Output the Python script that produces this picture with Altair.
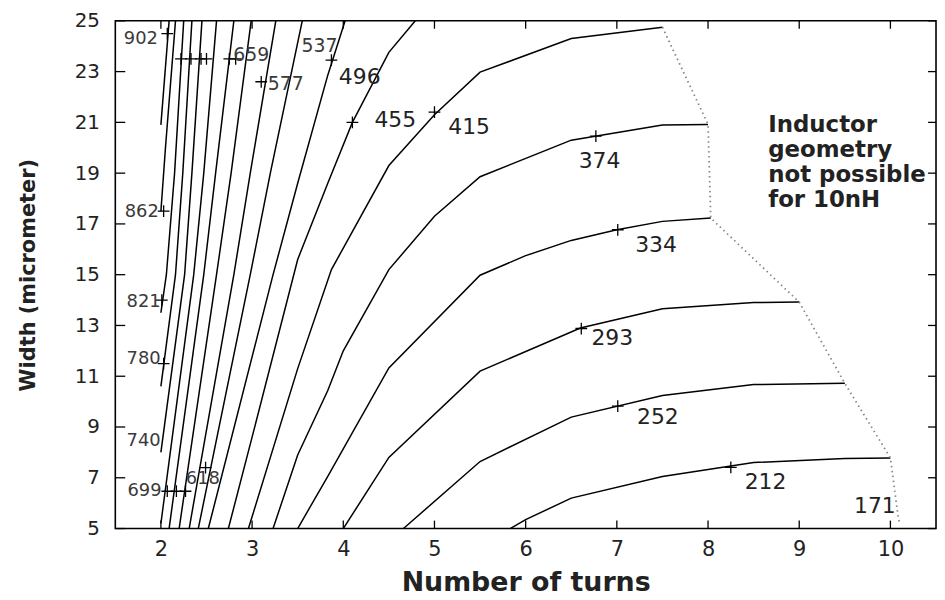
import altair as alt
import pandas as pd

# ---- contour lines: level -> (turns, width) points ----
levels = [212, 252, 293, 334, 374, 415, 455, 496, 537, 577, 618, 659, 699, 740, 780, 821, 862, 902]
line_turns = {
    212: [5.83, 6.0, 6.5, 7.5, 8.5, 9.5, 10.0],
    252: [4.66, 5.5, 6.5, 7.5, 8.5, 9.5],
    293: [4.0, 4.5, 5.5, 6.6, 7.5, 8.5, 9.0],
    334: [3.5, 3.83, 4.5, 5.5, 6.0, 6.5, 7.0, 7.5, 8.03],
    374: [3.23, 3.5, 3.83, 4.0, 4.5, 5.0, 5.5, 6.5, 7.5, 8.0],
    415: [2.96, 3.5, 3.87, 4.5, 5.0, 5.5, 6.5, 7.5],
    455: [2.74, 3.0, 3.5, 3.83, 4.1, 4.5, 4.79],
    496: [2.52, 3.23, 3.5, 3.83, 4.02],
    537: [2.41, 2.98, 3.2, 3.55],
    577: [2.31, 2.80, 2.98, 3.26],
    618: [2.20, 2.61, 2.77, 2.99],
    659: [2.09, 2.47, 2.60, 2.80],
    699: [2.0, 2.36, 2.47, 2.61],
    740: [2.0, 2.26, 2.34, 2.45],
    780: [2.0, 2.16, 2.24, 2.34],
    821: [2.0, 2.06, 2.15, 2.25],
    862: [2.0, 2.05, 2.16],
    902: [2.0, 2.09],
}
line_width = {
    212: [5.0, 5.35, 6.2, 7.05, 7.6, 7.76, 7.78],
    252: [5.0, 7.64, 9.39, 10.24, 10.67, 10.72],
    293: [5.0, 7.8, 11.2, 12.9, 13.66, 13.9, 13.92],
    334: [5.0, 7.06, 11.33, 14.98, 15.75, 16.35, 16.77, 17.1, 17.23],
    374: [5.0, 7.9, 10.44, 12.0, 15.2, 17.3, 18.86, 20.3, 20.9, 20.92],
    415: [5.0, 11.3, 15.2, 19.3, 21.3, 22.98, 24.3, 24.75],
    455: [5.0, 8.6, 15.6, 18.6, 21.0, 23.76, 25.0],
    496: [5.0, 15.0, 18.6, 22.86, 25.0],
    537: [5.0, 15.0, 19.0, 25.0],
    577: [5.0, 15.0, 19.0, 25.0],
    618: [5.0, 15.0, 19.0, 25.0],
    659: [5.0, 15.0, 19.0, 25.0],
    699: [5.2, 15.0, 19.0, 25.0],
    740: [8.0, 15.0, 19.0, 25.0],
    780: [10.6, 15.0, 19.0, 25.0],
    821: [13.5, 15.0, 19.0, 25.0],
    862: [17.5, 20.0, 25.0],
    902: [20.9, 25.0],
}

# ---- feasibility boundary (dotted) ----
bound_turns = [7.5, 8.0, 8.03, 9.0, 9.5, 10.0, 10.08, 10.1]
bound_width = [24.75, 20.92, 17.23, 13.92, 10.72, 7.78, 5.6, 5.2]

# ---- '+' label markers ----
cross_turns = [2.07, 2.03, 2.01, 2.03, 2.07, 2.17, 2.27, 2.49, 2.22, 2.33, 2.44, 2.50,
               2.75, 2.82, 3.10, 3.87, 4.10, 5.00, 6.77, 7.01, 6.61, 7.01, 8.25]
cross_width = [24.5, 17.5, 14.0, 11.5, 6.47, 6.47, 6.47, 7.4, 23.5, 23.5, 23.5, 23.5,
               23.5, 23.5, 22.6, 23.45, 21.0, 21.4, 20.46, 16.77, 12.88, 9.82, 7.41]

# ---- contour value labels ----
small_text = ["902", "862", "821", "780", "740", "699", "618"]
small_turns = [1.78, 1.79, 1.81, 1.81, 1.81, 1.82, 2.46]
small_width = [24.3, 17.47, 13.93, 11.68, 8.46, 6.48, 6.94]

mid_text = ["659", "577", "537"]
mid_turns = [2.99, 3.37, 3.74]
mid_width = [23.64, 22.5, 23.99]

big_text = ["496", "455", "415", "374", "334", "293", "252", "212", "171"]
big_turns = [4.18, 4.57, 5.38, 6.81, 7.43, 6.95, 7.45, 8.63, 9.83]
big_width = [22.8, 21.1, 20.8, 19.49, 16.15, 12.5, 9.39, 6.83, 5.9]

note_text = "Inductor\ngeometry\nnot possible\nfor 10nH"
note_turns = [8.66]
note_width = [20.61]

x_ticks = [2, 3, 4, 5, 6, 7, 8, 9, 10]
y_ticks = [5, 7, 9, 11, 13, 15, 17, 19, 21, 23, 25]

W, H = 826, 511
FONT = "DejaVu Sans"

rows = []
for lv in levels:
    for i, (t, w) in enumerate(zip(line_turns[lv], line_width[lv])):
        rows.append({"level": lv, "seq": i, "x": t, "w": w})
lines_df = pd.DataFrame(rows)
bound_df = pd.DataFrame({"x": bound_turns, "w": bound_width, "seq": range(len(bound_turns))})
cross_df = pd.DataFrame({"x": cross_turns, "w": cross_width})
small_df = pd.DataFrame({"x": small_turns, "w": small_width, "t": small_text})
mid_df = pd.DataFrame({"x": mid_turns, "w": mid_width, "t": mid_text})
big_df = pd.DataFrame({"x": big_turns, "w": big_width, "t": big_text})
note_df = pd.DataFrame({"x": note_turns, "w": note_width, "t": [note_text]})
xt_df = pd.DataFrame({"x": x_ticks})
yt_df = pd.DataFrame({"w": y_ticks})

xscale = alt.Scale(domain=[1.5, 10.5], nice=False, zero=False)
yscale = alt.Scale(domain=[5, 25], nice=False, zero=False)

x_axis = alt.Axis(values=x_ticks, title="Number of turns", grid=False, domain=False,
                  ticks=False, tickSize=0, labelFont=FONT, labelFontSize=21,
                  labelColor="#222", labelPadding=10, titleFont=FONT, titleFontSize=27,
                  titleFontWeight="bold", titleColor="#222", titlePadding=10)
y_axis = alt.Axis(values=y_ticks, title="Width (micrometer)", grid=False, domain=False,
                  ticks=False, tickSize=0, labelFont=FONT, labelFontSize=20,
                  labelColor="#222", labelPadding=16, titleFont=FONT, titleFontSize=21,
                  titleFontWeight="bold", titleColor="#222", titlePadding=36)

X = alt.X("x:Q", scale=xscale, axis=x_axis)
Y = alt.Y("w:Q", scale=yscale, axis=y_axis)

contours = alt.Chart(lines_df).mark_line(color="black", strokeWidth=1.5).encode(
    x=X, y=Y, detail="level:N", order="seq:Q")

boundary = alt.Chart(bound_df).mark_line(color="#888", strokeWidth=1.8, strokeDash=[1.5, 3.5]).encode(
    x=X, y=Y, order="seq:Q")

crosses = alt.Chart(cross_df).mark_point(shape="M-1,0L1,0M0,-1L0,1", size=140, filled=False,
                                         stroke="black", strokeWidth=1.3, opacity=1).encode(x=X, y=Y)

small_lbl = alt.Chart(small_df).mark_text(font=FONT, fontSize=18, color="#3a3a3a",
                                          align="center", baseline="middle").encode(x=X, y=Y, text="t:N")
mid_lbl = alt.Chart(mid_df).mark_text(font=FONT, fontSize=19, color="#3a3a3a",
                                      align="center", baseline="middle").encode(x=X, y=Y, text="t:N")
big_lbl = alt.Chart(big_df).mark_text(font=FONT, fontSize=22, color="#222",
                                      align="center", baseline="middle").encode(x=X, y=Y, text="t:N")
note = alt.Chart(note_df).mark_text(font=FONT, fontSize=23, fontWeight="bold", color="#222",
                                    align="left", baseline="alphabetic", lineBreak="\n",
                                    lineHeight=25).encode(x=X, y=Y, text="t:N")

tick_b = alt.Chart(xt_df).mark_rule(color="black", strokeWidth=1.3).encode(
    x=X, y=alt.value(H), y2=alt.value(H - 8))
tick_t = alt.Chart(xt_df).mark_rule(color="black", strokeWidth=1.3).encode(
    x=X, y=alt.value(0), y2=alt.value(8))
tick_l = alt.Chart(yt_df).mark_rule(color="black", strokeWidth=1.3).encode(
    y=Y, x=alt.value(0), x2=alt.value(10))
tick_r = alt.Chart(yt_df).mark_rule(color="black", strokeWidth=1.3).encode(
    y=Y, x=alt.value(W), x2=alt.value(W - 8))

chart = alt.layer(
    contours, boundary, crosses, small_lbl, mid_lbl, big_lbl, note,
    tick_b, tick_t, tick_l, tick_r
).properties(
    width=W, height=H,
    padding={"left": 108, "top": 11, "right": 1, "bottom": 70},
    autosize=alt.AutoSizeParams(type="none"),
    background="white",
).configure_view(stroke="black", strokeWidth=1.6)

chart.save("out.html", embed_options={"renderer": "svg", "actions": False})
